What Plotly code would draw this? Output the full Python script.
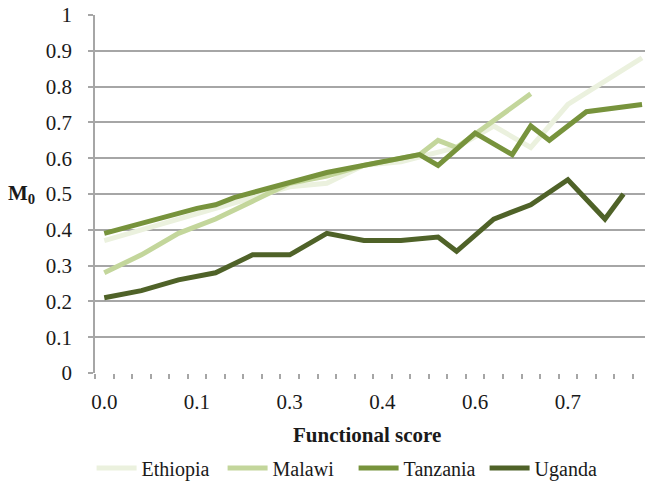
import plotly.graph_objects as go

# Category positions (Excel-style category axis, 30 functional-score categories)
categories = list(range(30))
tick_positions = [0, 5, 10, 15, 20, 25]
tick_labels = ["0.0", "0.1", "0.3", "0.4", "0.6", "0.7"]

N = None
ethiopia = [0.37, N, 0.40, N, 0.43, N, 0.46, N, 0.49, N, 0.52, N, 0.53, N, 0.58,
            N, 0.59, N, N, 0.63, N, 0.69, N, 0.63, N, 0.75, N, N, N, 0.88]
malawi = [0.28, N, 0.33, N, 0.39, N, 0.43, N, 0.48, N, 0.53, N, 0.55, N, 0.58,
          N, N, 0.61, 0.65, 0.63, N, N, N, 0.78, N, N, N, N, N, N]
tanzania = [0.39, N, N, N, N, 0.46, 0.47, 0.49, N, N, N, N, 0.56, N, N,
            N, N, 0.61, 0.58, N, 0.67, N, 0.61, 0.69, 0.65, N, 0.73, N, N, 0.75]
uganda = [0.21, N, 0.23, N, 0.26, N, 0.28, N, 0.33, N, 0.33, N, 0.39, N, 0.37,
          N, 0.37, N, 0.38, 0.34, N, 0.43, N, 0.47, N, 0.54, N, 0.43, 0.50, N]

series_names = ["Ethiopia", "Malawi", "Tanzania", "Uganda"]
series_values = [ethiopia, malawi, tanzania, uganda]
series_colors = ["#ebf1de", "#c3d69b", "#77933c", "#4f6228"]

FONT = "Liberation Serif, Times New Roman, serif"
TXT = "#1a1a1a"
GRID = "#a6a6a6"

fig = go.Figure()
for name, vals, col in zip(series_names, series_values, series_colors):
    fig.add_trace(go.Scatter(
        x=categories, y=vals, name=name, mode="lines", connectgaps=True,
        line=dict(color=col, width=5), hoverinfo="skip"))

fig.update_layout(
    width=645, height=483,
    margin=dict(l=95, r=0, t=15, b=110),
    paper_bgcolor="white", plot_bgcolor="white",
    font=dict(family=FONT, size=21, color=TXT),
    showlegend=True,
    legend=dict(orientation="h", xref="container", x=0.142, xanchor="left",
                yref="container", y=0.031, yanchor="middle",
                font=dict(size=20, family=FONT, color=TXT),
                itemwidth=40, entrywidth=76, entrywidthmode="pixels",
                tracegroupgap=0),
    xaxis=dict(
        range=[-0.5, 29.16], tickmode="array", tickvals=tick_positions,
        ticktext=tick_labels, ticks="", showgrid=False, zeroline=False,
        showline=False, ticklabelstandoff=14,
        tickfont=dict(size=21, family=FONT, color=TXT),
        minor=dict(tickmode="array", tickvals=[k - 0.5 for k in range(31)],
                   ticks="outside", ticklen=5, tickwidth=1.5,
                   tickcolor=GRID, showgrid=False),
        automargin=False,
    ),
    yaxis=dict(
        range=[0, 1], dtick=0.1, tick0=0, ticks="outside", ticklen=5,
        tickwidth=1.5, tickcolor=GRID, showgrid=True, gridcolor=GRID,
        gridwidth=1.5, zeroline=False, showline=True, linecolor=GRID,
        linewidth=1.5, ticklabelstandoff=12, automargin=False,
        tickfont=dict(size=21, family=FONT, color=TXT),
    ),
    annotations=[
        dict(text="<b>M<sub>0</sub></b>", xref="paper", yref="paper",
             x=-0.105, y=0.5, xanchor="right", yanchor="middle",
             showarrow=False, font=dict(size=21, family=FONT, color=TXT)),
        dict(text="<b>Functional score</b>", xref="paper", yref="paper",
             x=0.495, y=-0.172, xanchor="center", yanchor="middle",
             showarrow=False, font=dict(size=21, family=FONT, color=TXT)),
    ],
)

fig.write_html("out.html")
